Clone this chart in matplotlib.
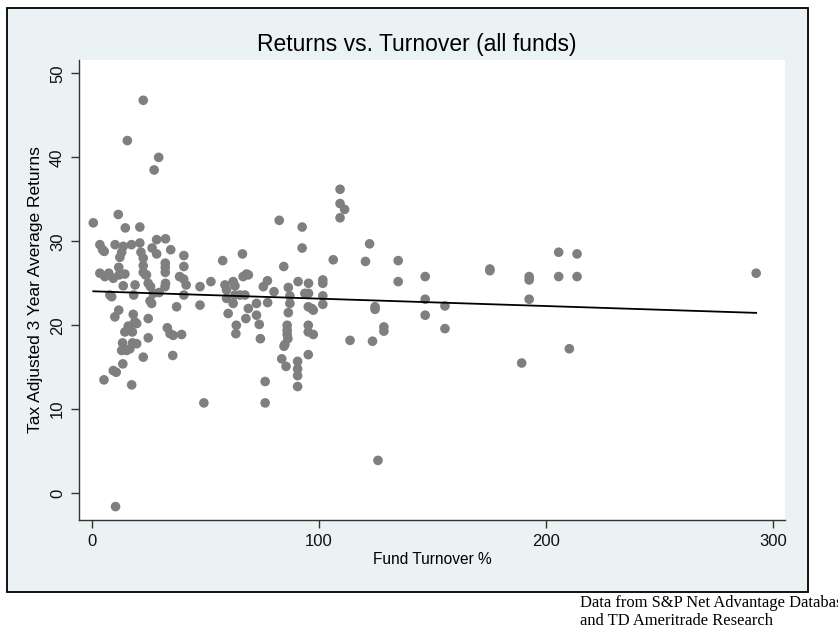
import numpy as np
import matplotlib
matplotlib.use("Agg")
import matplotlib.pyplot as plt
from matplotlib.patches import Rectangle

# Fund turnover (%) and tax adjusted 3 year average returns
turnover = [
    22.6, 15.6, 29.4, 27.4, 0.6, 11.6, 14.7, 21.1,
    3.5, 4.7, 5.4, 10.2, 13.8, 13.1, 12.3, 17.4, 21.1, 28.5, 32.4, 26.5, 28.5,
    34.7, 21.6, 22.6, 40.5,
    22.6, 22.6, 23.6, 32.3, 32.3, 32.3, 11.8, 40.5, 57.6, 66.3, 84.5,
    106.3, 120.5, 122.3, 82.5, 92.6, 92.6, 109.3, 109.3, 111.3, 109.3,
    3.5, 5.7, 7.4, 9.4, 12.0, 14.5, 24.0, 38.6, 40.4, 41.5, 40.5,
    13.8, 19.0, 24.8, 25.8, 32.4, 32.2, 29.6, 27.0,
    7.9, 8.7, 18.4, 25.6, 26.3, 37.3, 47.6, 47.6, 52.4,
    11.8, 10.1, 18.2, 18.9, 19.7, 24.8,
    16.0, 16.7, 14.5, 17.8, 33.2, 34.4, 35.8, 39.5, 24.8,
    13.5, 17.9, 19.7, 13.1, 15.3, 16.7, 22.6, 35.6,
    13.6, 9.4, 10.7, 5.3, 17.5, 49.3, 10.4,
    58.6, 59.3, 62.2, 63.0, 59.3, 62.2, 60.0, 63.6, 63.4, 63.0, 65.2, 67.4,
    68.1, 66.6, 68.9, 68.9, 67.8, 72.5, 72.5, 73.7, 74.2,
    75.5, 77.3, 80.2, 77.4, 76.3, 76.3,
    86.5, 87.2, 87.2, 86.5, 86.0, 86.0, 86.0, 86.3, 85.0, 84.6, 83.6, 85.5,
    90.8, 95.4, 95.4, 93.8, 101.7, 101.7, 101.7, 101.7, 95.3, 96.8, 97.5,
    95.3, 95.3, 97.5, 95.3, 90.6, 90.6, 90.6, 90.6,
    113.7, 123.6, 124.7, 124.7, 126.0, 134.9, 134.9, 146.8, 146.8, 146.8,
    155.5, 155.5, 128.6, 128.6, 175.3, 175.3, 192.6, 192.6, 192.6, 189.3,
    205.6, 213.7, 205.6, 213.7, 210.3, 292.6,
]
returns = [
    46.8, 42.0, 40.0, 38.5, 32.2, 33.2, 31.6, 31.7,
    29.6, 29.0, 28.8, 29.6, 29.4, 28.7, 28.1, 29.6, 29.8, 30.2, 30.3, 29.2, 28.5,
    29.0, 28.7, 28.0, 28.3,
    27.1, 26.3, 26.0, 27.4, 26.9, 26.3, 26.9, 27.0, 27.7, 28.5, 27.0,
    27.8, 27.6, 29.7, 32.5, 31.7, 29.2, 36.2, 34.5, 33.8, 32.8,
    26.2, 25.8, 26.2, 25.6, 26.0, 26.1, 26.0, 25.8, 25.5, 24.8, 23.6,
    24.7, 24.8, 25.0, 24.6, 25.0, 24.6, 23.9, 23.8,
    23.6, 23.4, 23.6, 22.9, 22.6, 22.2, 22.4, 24.6, 25.2,
    21.8, 21.0, 21.3, 20.4, 20.2, 20.8,
    19.9, 19.4, 19.2, 19.2, 19.7, 19.0, 18.8, 18.9, 18.5,
    17.9, 17.9, 17.8, 17.0, 17.0, 17.2, 16.2, 16.4,
    15.4, 14.6, 14.4, 13.5, 12.9, 10.75, -1.6,
    24.8, 24.2, 25.2, 24.7, 23.2, 22.6, 21.4, 20.0, 19.0, 23.6, 23.6, 23.6,
    26.1, 25.8, 26.0, 22.0, 20.8, 22.6, 21.2, 20.1, 18.4,
    24.6, 25.3, 24.0, 22.7, 13.3, 10.75,
    24.5, 23.5, 22.6, 21.5, 20.0, 19.4, 18.9, 18.4, 17.7, 17.5, 16.0, 15.1,
    25.2, 25.0, 23.8, 23.8, 25.4, 25.0, 23.5, 22.5, 22.2, 22.0, 21.8,
    20.0, 19.2, 18.9, 16.5, 15.7, 14.8, 14.0, 12.7,
    18.2, 18.1, 22.2, 21.9, 3.9, 27.7, 25.2, 25.8, 23.1, 21.2,
    22.3, 19.6, 19.8, 19.3, 26.5, 26.7, 25.8, 25.4, 23.1, 15.5,
    28.7, 28.5, 25.8, 25.8, 17.2, 26.2,
]

# fitted line as drawn in the chart (value at x=0 and slope per turnover point)
fit_intercept = 24.05
fit_slope = -0.0088

x_ticks = [0, 100, 200, 300]
y_ticks = [0, 10, 20, 30, 40, 50]

x = np.array(turnover)
y = np.array(returns)

fig = plt.figure(figsize=(8.38, 6.33), dpi=100)
fig.patch.set_facecolor("white")

# light blue graph region with black frame, behind the axes
frame = Rectangle((7 / 838, 1 - 592 / 633), 801 / 838, 584 / 633,
                  transform=fig.transFigure, facecolor="#eaf2f3",
                  edgecolor="black", linewidth=1.3, zorder=-1)
fig.add_artist(frame)

ax = fig.add_axes([79 / 838, 1 - 520 / 633, 706 / 838, 460 / 633])
ax.set_zorder(1)
ax.set_facecolor("white")
ax.scatter(x, y, s=48, color="#7f7f7f", edgecolors="none", zorder=3)

xs = np.array([x.min(), x.max()])
ax.plot(xs, fit_intercept + fit_slope * xs, color="black", linewidth=1.3, zorder=4)

ax.set_xlim(-5.7, 305.3)
ax.set_ylim(-3.2, 51.6)
ax.set_xticks(x_ticks)
ax.set_yticks(y_ticks)
for s in ["top", "right"]:
    ax.spines[s].set_visible(False)
for s in ["left", "bottom"]:
    ax.spines[s].set_color("#333333")
    ax.spines[s].set_linewidth(1.0)
ax.tick_params(direction="out", length=6, width=1.0, color="#333333",
               labelsize=12, labelcolor="#111111", pad=4)
plt.setp(ax.get_yticklabels(), rotation=90, va="center")

fig.text(417 / 838, 1 - 44 / 633, "Returns vs. Turnover (all funds)",
         fontsize=16.5, family="Liberation Sans", ha="center", va="center")
ax.set_xlabel("Fund Turnover %", fontsize=11.2, family="Liberation Sans", labelpad=2)
ax.set_ylabel("Tax Adjusted 3 Year Average Returns", fontsize=12.5,
              family="Liberation Sans", labelpad=5)
for lab in ax.get_xticklabels() + ax.get_yticklabels():
    lab.set_family("Liberation Sans")

fig.text(580 / 838, 1 - 603 / 633, "Data from S&P Net Advantage Database",
         family="Liberation Serif", fontsize=11.9, va="center", ha="left")
fig.text(580 / 838, 1 - 621 / 633, "and TD Ameritrade Research",
         family="Liberation Serif", fontsize=11.9, va="center", ha="left")

fig.savefig("out.png", dpi=100)
